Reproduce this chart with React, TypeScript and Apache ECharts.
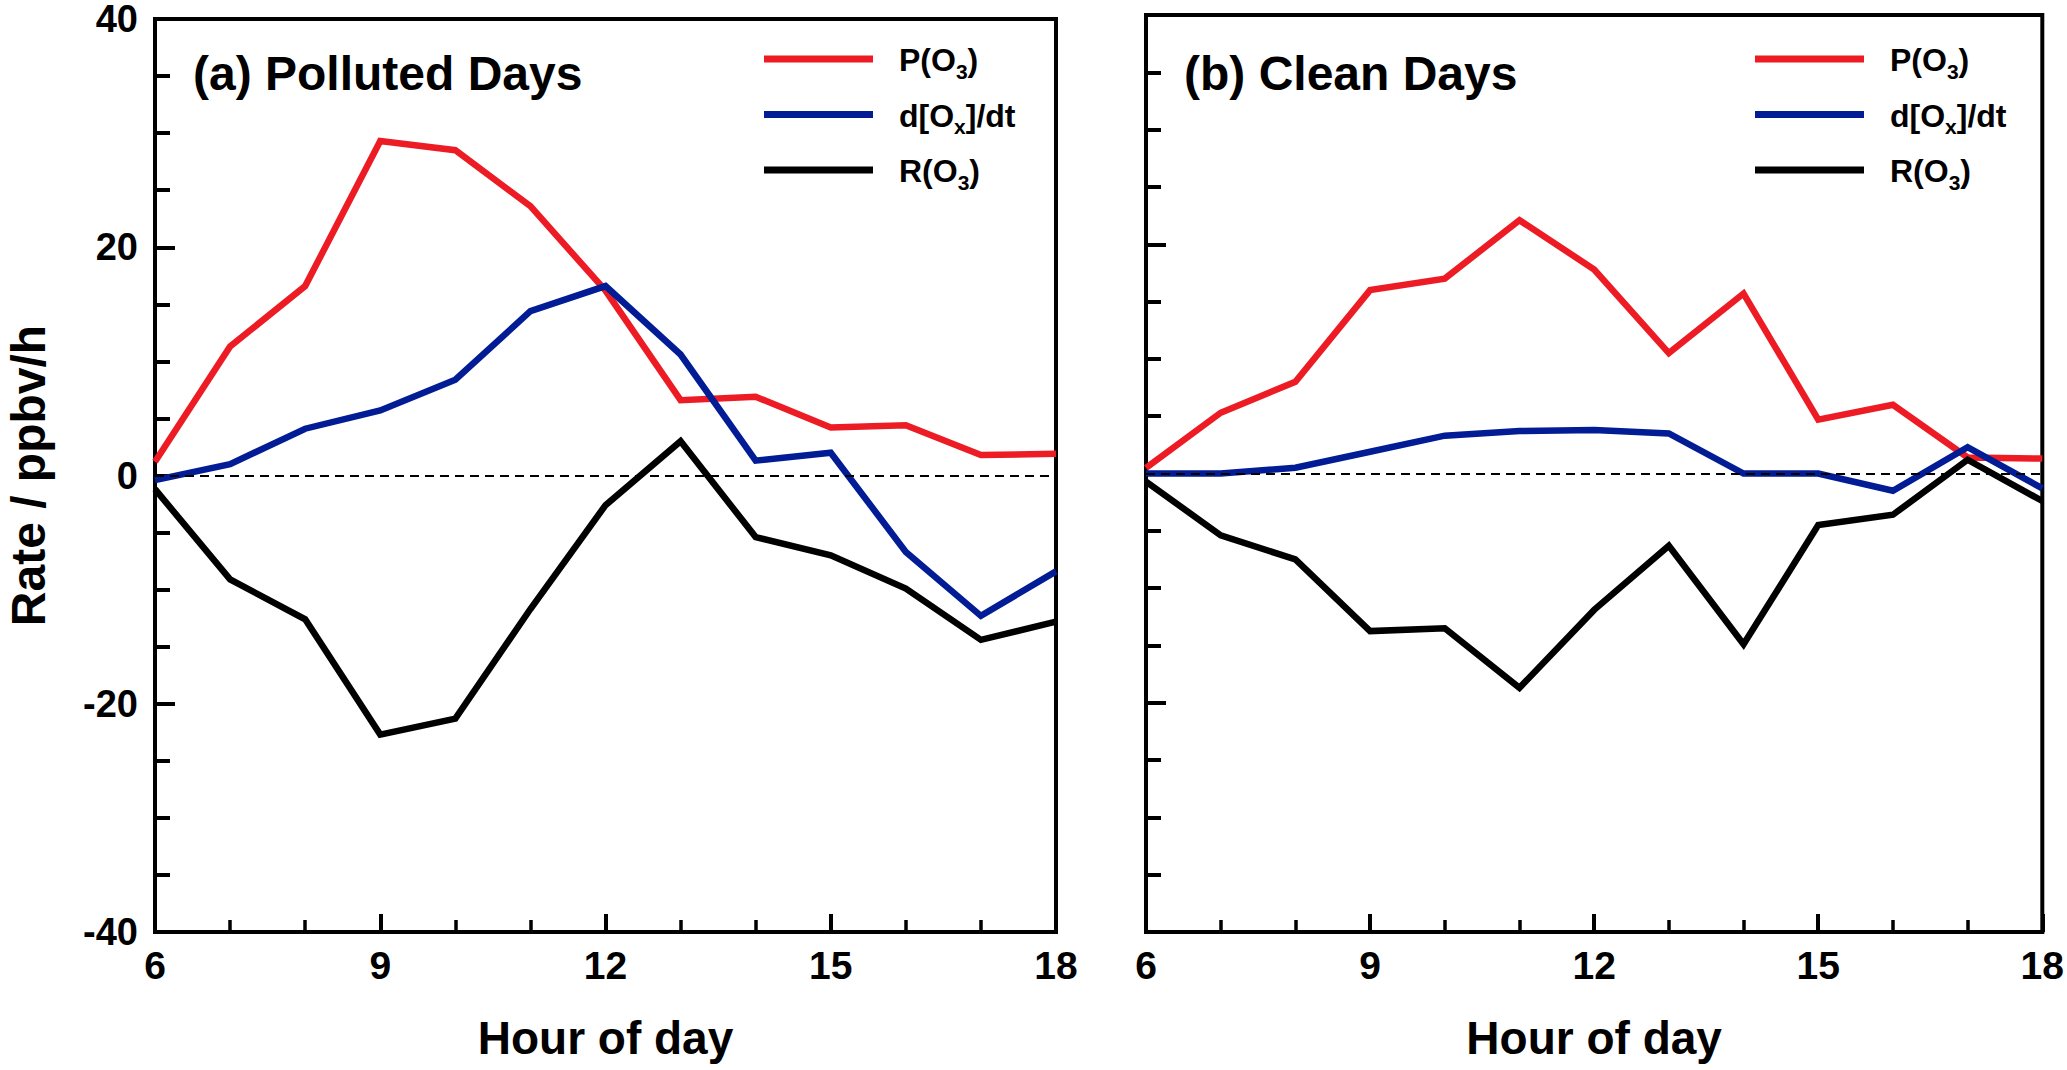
import React, { useEffect, useRef } from "react";
import * as echarts from "echarts";

const hours = [6, 7, 8, 9, 10, 11, 12, 13, 14, 15, 16, 17, 18];

const pollutedP = [1.2, 11.3, 16.6, 29.3, 28.5, 23.6, 16.2, 6.6, 6.9, 4.2, 4.4, 1.8, 1.9];
const pollutedD = [-0.4, 1.0, 4.1, 5.7, 8.4, 14.4, 16.6, 10.6, 1.3, 2.0, -6.7, -12.3, -8.4];
const pollutedR = [-1.2, -9.1, -12.6, -22.7, -21.3, -11.7, -2.6, 3.0, -5.4, -7.0, -9.9, -14.4, -12.8];

const cleanP = [0.5, 5.3, 8.0, 16.0, 17.0, 22.1, 17.8, 10.5, 15.7, 4.7, 6.0, 1.4, 1.3];
const cleanD = [0, 0, 0.5, 1.9, 3.3, 3.7, 3.8, 3.5, 0, 0, -1.5, 2.3, -1.3];
const cleanR = [-0.7, -5.4, -7.5, -13.75, -13.5, -18.7, -11.9, -6.3, -14.9, -4.5, -3.6, 1.2, -2.4];

const seriesNames = ["P(O3)", "d[Ox]/dt", "R(O3)"];
const seriesColors = ["#ED1C24", "#021C95", "#000000"];
const panelTitles = ["(a) Polluted Days", "(b) Clean Days"];
const xTitle = "Hour of day";
const yTitle = "Rate / ppbv/h";
const yMin = -40;
const yMax = 40;
const xMin = 6;
const xMax = 18;

const FONT = "'Liberation Sans', Arial, Helvetica, sans-serif";

const legendLabels: Record<string, string> = {
  "P(O3)": "{n|P(O}{s|3}{n|)}",
  "d[Ox]/dt": "{n|d[O}{s|x}{n|]/dt}",
  "R(O3)": "{n|R(O}{s|3}{n|)}",
};

function pairs(vals: number[]) {
  return hours.map((h, i) => [h, vals[i]]);
}

export default function App() {
  const ref = useRef<HTMLDivElement>(null);

  useEffect(() => {
    document.body.style.margin = "0";
    if (!ref.current) return;
    const chart = echarts.init(ref.current, undefined, { renderer: "svg" });

    const grids = [
      { left: 155, top: 15, width: 901, height: 917 },
      { left: 1146, top: 15, width: 899, height: 917 },
    ];

    const xAxes = grids.map((_, i) => ({
      type: "value",
      gridIndex: i,
      min: xMin,
      max: xMax,
      interval: 3,
      name: xTitle,
      nameLocation: "middle",
      nameGap: 83,
      nameTextStyle: { fontSize: 46, fontWeight: "bold", color: "#000", fontFamily: FONT },
      axisLine: { show: true, onZero: false, lineStyle: { color: "#000", width: 4 } },
      axisTick: { show: true, inside: true, length: 18, lineStyle: { color: "#000", width: 4 } },
      minorTick: { show: true, splitNumber: 3, length: 12, lineStyle: { color: "#000", width: 3.5 } },
      splitLine: { show: false },
      axisLabel: { fontSize: 39, fontWeight: "bold", color: "#000", margin: 14, fontFamily: FONT },
    }));

    const yAxes = grids.map((_, i) => ({
      type: "value",
      gridIndex: i,
      min: yMin,
      max: yMax,
      interval: 20,
      name: i === 0 ? yTitle : "",
      nameLocation: "middle",
      nameGap: 103,
      nameTextStyle: { fontSize: 48, fontWeight: "bold", color: "#000", fontFamily: FONT },
      axisLine: { show: true, onZero: false, lineStyle: { color: "#000", width: 4 } },
      axisTick: { show: true, inside: true, length: 20, lineStyle: { color: "#000", width: 4 } },
      minorTick: { show: true, splitNumber: 4, length: 15, lineStyle: { color: "#000", width: 4 } },
      splitLine: { show: false },
      axisLabel: {
        show: i === 0,
        fontSize: 38,
        fontWeight: "bold",
        color: "#000",
        margin: 17,
        padding: [6, 0, 0, 0],
        fontFamily: FONT,
      },
    }));

    const panelData = [
      [pollutedP, pollutedD, pollutedR],
      [cleanP, cleanD, cleanR],
    ];

    const series: any[] = [];
    panelData.forEach((sets, p) => {
      series.push({
        type: "line",
        name: "zero" + p,
        xAxisIndex: p,
        yAxisIndex: p,
        data: [],
        z: 1,
        silent: true,
        markLine: {
          silent: true,
          symbol: "none",
          label: { show: false },
          lineStyle: { type: [9, 6], width: 2, color: "#000" },
          data: [{ yAxis: 0 }],
        },
      });
      sets.forEach((vals, k) => {
        series.push({
          type: "line",
          name: seriesNames[k],
          xAxisIndex: p,
          yAxisIndex: p,
          data: pairs(vals),
          symbol: "none",
          z: 3,
          color: seriesColors[k],
          itemStyle: { color: seriesColors[k] },
          lineStyle: { color: seriesColors[k], width: 6.5, join: "miter", cap: "butt" },
        });
      });
    });

    const richStyles = {
      n: { fontSize: 32, fontWeight: "bold", fill: "#000", fontFamily: FONT, lineHeight: 36 },
      s: { fontSize: 21, fontWeight: "bold", fill: "#000", fontFamily: FONT, height: 14, verticalAlign: "bottom" },
    };

    const legendGraphics: any[] = [];
    grids.forEach((g) => {
      seriesNames.forEach((name, k) => {
        const y = 59 + 55.5 * k;
        legendGraphics.push({
          type: "line",
          silent: true,
          shape: { x1: g.left + 609, y1: y, x2: g.left + 718, y2: y },
          style: { stroke: seriesColors[k], lineWidth: 7 },
        });
        legendGraphics.push({
          type: "text",
          silent: true,
          x: g.left + 744,
          y: y + 1,
          style: {
            text: legendLabels[name],
            fontSize: 32,
            fontWeight: "bold",
            fontFamily: FONT,
            fill: "#000",
            align: "left",
            verticalAlign: "middle",
            rich: richStyles,
          },
        });
      });
    });

    const titles = grids.map((g, i) => ({
      text: panelTitles[i],
      left: g.left + 33,
      top: 44,
      textStyle: { fontSize: 48, fontWeight: "bold", color: "#000", fontFamily: FONT },
    }));

    chart.setOption({
      animation: false,
      backgroundColor: "#fff",
      textStyle: { fontFamily: FONT },
      title: titles,
      graphic: legendGraphics,
      grid: grids.map((g) => ({ ...g, show: true, borderColor: "#000", borderWidth: 4, backgroundColor: "transparent" })),
      xAxis: xAxes,
      yAxis: yAxes,
      series,
    });

    return () => chart.dispose();
  }, []);

  return (
    <div
      ref={ref}
      style={{ position: "absolute", left: 0, top: 0, width: 2067, height: 1070 }}
    />
  );
}
